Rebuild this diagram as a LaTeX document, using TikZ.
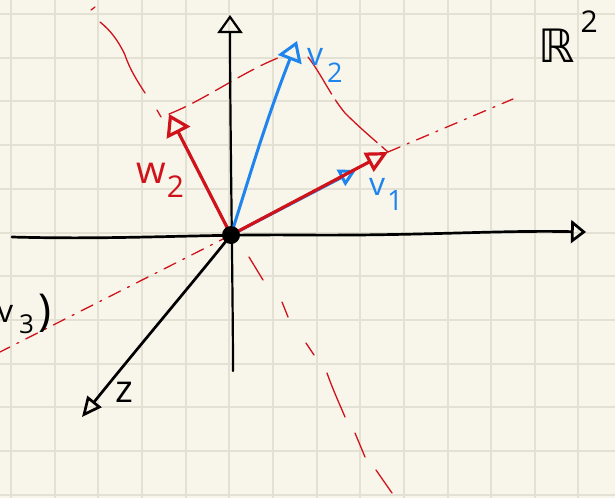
\documentclass[tikz,border=0pt]{standalone}
\usepackage{fontspec}
\setmainfont{Open Sans}
\newfontfamily\djv{DejaVu Sans}
\usetikzlibrary{arrows.meta}
\definecolor{paper}{HTML}{F8F6EB}
\definecolor{gridc}{HTML}{E3E1D4}
\definecolor{penblue}{HTML}{1E84EE}
\definecolor{penred}{HTML}{D0121A}
\begin{document}
\begin{tikzpicture}[x=1pt,y=-1pt,
  axis/.style={line width=2.7pt, line cap=round, black},
  vecb/.style={line width=3pt, penblue, line cap=round},
  vecr/.style={line width=3.2pt, penred, line cap=round},
  guide/.style={line width=1.3pt, penred, line cap=round},
  lbl/.style={inner sep=0pt, anchor=base west}]
\useasboundingbox (0,0) rectangle (615,498);
\fill[paper] (0,0) rectangle (615,498);
\foreach \i in {0,...,13} \draw[gridc, line width=2pt] ({11+43.65*\i},0) -- ({11+43.65*\i},498);
\foreach \j in {0,...,11} \draw[gridc, line width=2pt] (0,{14+43.7*\j}) -- (615,{14+43.7*\j});

% key points
\coordinate (O) at (231,235);
\coordinate (xs) at (12,237);
\coordinate (xt) at (586,232);
\coordinate (ys) at (233,371);
\coordinate (yt) at (230,15);
\coordinate (zt) at (82,417);
\coordinate (v2) at (297,41);
\coordinate (v1) at (356,170);
\coordinate (w1) at (388,152);
\coordinate (w2) at (169,114);
\coordinate (l1a) at (0,352);
\coordinate (l1b) at (513,99);

% red guide lines
\draw[guide, dash pattern=on 13pt off 8pt on 2pt off 8pt] (O) -- (l1a);
\draw[guide, dash pattern=on 13pt off 8pt on 2pt off 8pt] (w1) -- (l1b);
\draw[guide] (161,117) -- (157,110);
\draw[guide] (145,93) .. controls (138,82) and (130,70) .. (125,55) .. controls (118,40) and (110,30) .. (100,22);
\draw[guide] (91,10) -- (95,7);
\draw[guide] (249,257) -- (263,280);
\draw[guide] (282,302) -- (288,317);
\draw[guide] (306,343) -- (314,355);
\draw[guide] (327,373) .. controls (333,390) and (340,405) .. (345,417);
\draw[guide] (355,433) -- (365,457);
\draw[guide] (376,470) -- (392,493);
\draw[guide, dash pattern=on 18pt off 8pt] (w2) .. controls (205,100) and (245,70) .. (283,56);
\draw[guide, dash pattern=on 44pt off 7pt on 60pt off 6pt] (308,57) .. controls (322,75) and (330,95) .. (345,113) .. controls (360,128) and (372,138) .. (w1);

% axes
\draw[axis, -{Triangle[open,length=15pt,width=23pt]}] (xs) .. controls (120,240) and (200,234) .. (300,235) .. controls (420,236) and (500,230) .. (xt);
\draw[axis, line width=2.2pt, -{Triangle[open,length=18pt,width=25pt]}] (ys) .. controls (233,300) and (230,120) .. (yt);
\draw[axis, -{Triangle[open,length=20pt,width=18pt]}] (O) .. controls (195,280) and (140,345) .. (zt);

% vectors
\draw[vecb, -{Triangle[open,length=20pt,width=25pt]}] (O) .. controls (250,175) and (266,120) .. (v2);
\draw[vecb, -{Triangle[open,length=17pt,width=18pt]}] (O) -- (v1);
\draw[vecr, -{Triangle[open,length=22pt,width=21pt]}] (O) -- (w1);
\draw[vecr, -{Triangle[open,length=21pt,width=26pt]}] (O) -- (w2);

\node[circle, fill=black, minimum size=18pt, inner sep=0pt] (dot) at (O) {};

% labels
\node[lbl, penblue] (lv2) at (307,65) {\fontsize{32}{32}\selectfont v\kern4pt\raisebox{-17pt}{\fontsize{27}{27}\selectfont 2}};
\node[lbl, penblue] (lv1) at (369,195) {\fontsize{32}{32}\selectfont v\kern2pt\raisebox{-15pt}{\fontsize{28}{28}\selectfont 1}};
\node[lbl, penred] (lw2) at (136,183) {\fontsize{38}{38}\selectfont w\kern1pt\raisebox{-14pt}{\fontsize{30}{30}\selectfont 2}};
\node[lbl] (lz) at (115,402) {\fontsize{38}{38}\selectfont z};
\node[lbl] (lv3) at (-3,322) {\fontsize{32}{32}\selectfont v\kern6pt\raisebox{-11pt}{\fontsize{26}{26}\selectfont 3}\kern4pt\raisebox{-3pt}{\fontsize{44}{44}\selectfont )}};
\node[lbl] (lR) at (538,62) {\fontsize{46}{46}\selectfont{\djv ℝ}\kern6pt\raisebox{30pt}{\fontsize{30}{30}\selectfont 2}};
\end{tikzpicture}
\end{document}
